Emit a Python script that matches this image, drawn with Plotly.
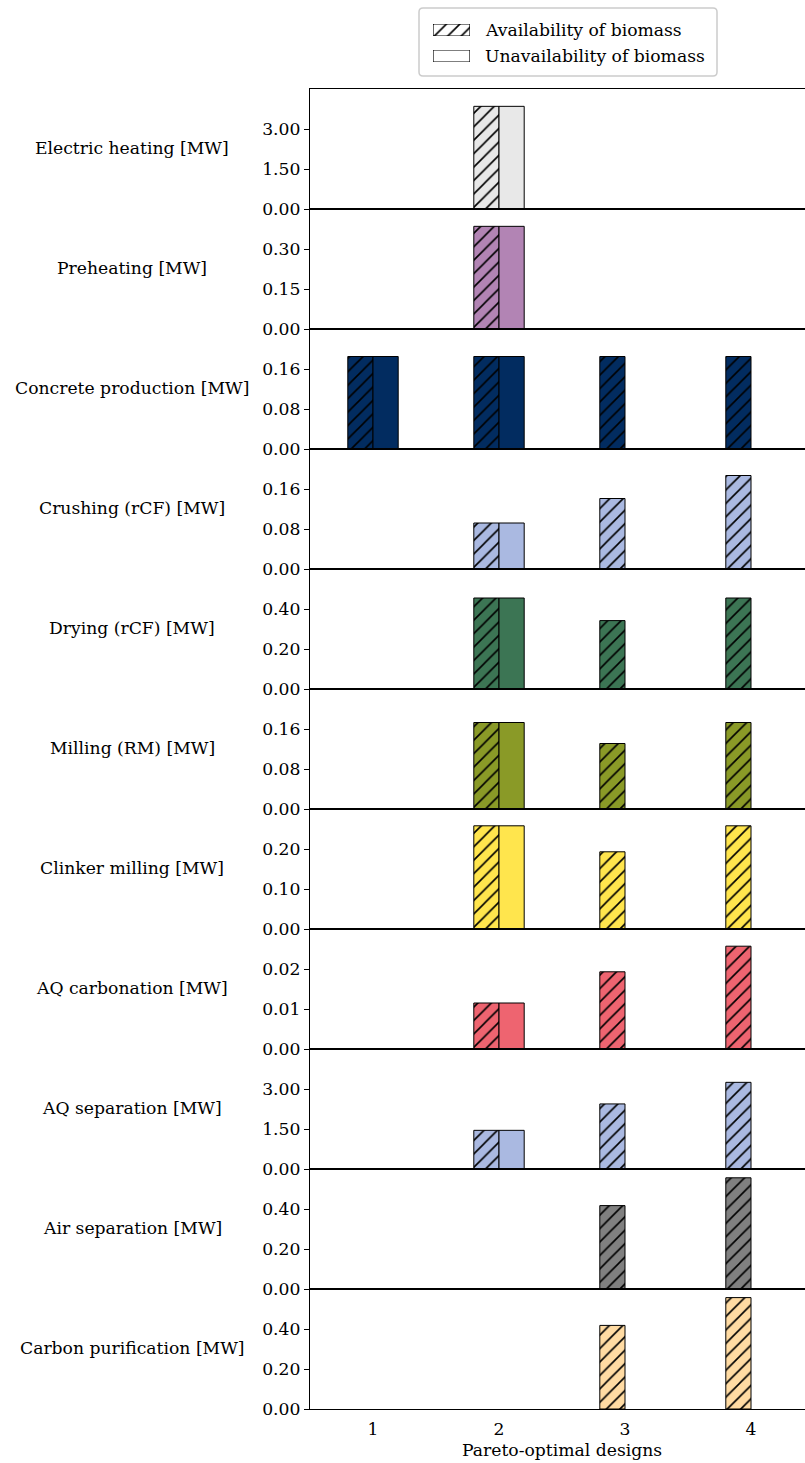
import plotly.graph_objects as go

# ---- data -------------------------------------------------------------
designs = [1, 2, 3, 4]

units = [
    "Electric heating [MW]",
    "Preheating [MW]",
    "Concrete production [MW]",
    "Crushing (rCF) [MW]",
    "Drying (rCF) [MW]",
    "Milling (RM) [MW]",
    "Clinker milling [MW]",
    "AQ carbonation [MW]",
    "AQ separation [MW]",
    "Air separation [MW]",
    "Carbon purification [MW]",
]

# power demand with biomass available (hatched bars)
with_biomass = [
    [0.0, 3.85, 0.0, 0.0],
    [None, 0.385, None, None],
    [0.185, 0.185, 0.185, 0.185],
    [None, 0.092, 0.141, 0.187],
    [None, 0.455, 0.342, 0.455],
    [None, 0.173, 0.131, 0.173],
    [None, 0.258, 0.193, 0.258],
    [0.0, 0.0115, 0.0193, 0.0257],
    [None, 1.45, 2.44, 3.25],
    [None, None, 0.417, 0.556],
    [None, None, 0.418, 0.557],
]

# power demand without biomass (plain bars); only designs 1 and 2 exist
without_biomass = [
    [0.0, 3.85, None, None],
    [None, 0.385, None, None],
    [0.185, 0.185, None, None],
    [None, 0.092, None, None],
    [None, 0.455, None, None],
    [None, 0.173, None, None],
    [None, 0.258, None, None],
    [0.0, 0.0115, None, None],
    [None, 1.45, None, None],
    [None, None, None, None],
    [None, None, None, None],
]

tick_steps = [1.5, 0.15, 0.08, 0.08, 0.2, 0.08, 0.1, 0.01, 1.5, 0.2, 0.2]

colors = [
    "#E8E8E8", "#B284B4", "#022C60", "#AAB9E1", "#3C7554", "#8A9A27",
    "#FFE54D", "#EE6470", "#AAB9E1", "#808080", "#FFDBA3",
]

legend_labels = ["Availability of biomass", "Unavailability of biomass"]

# ---- layout geometry (pixels) ------------------------------------------
W, H = 805, 1463
FONT = "DejaVu Serif"
FS = 17.2
left_px = 310
panel_top0 = 89
panel_h = 120
unit_px = 126.0  # pixels per design on the x axis
x_range = [0.5, 0.5 + (W - left_px) / unit_px]

HATCH = dict(shape="/", fgcolor="black", fgopacity=1, size=9.5,
             solidity=0.17, fillmode="overlay")


def py(y_px):
    return (H - y_px) / H


def px(x_px):
    return x_px / W


fig = go.Figure()
layout = dict(
    width=W, height=H, autosize=False,
    margin=dict(l=0, r=0, t=0, b=0, pad=0),
    paper_bgcolor="white",
    plot_bgcolor="rgba(0,0,0,0)",
    barmode="group", bargap=0.6, bargroupgap=0.0,
    showlegend=False,
    font=dict(family=FONT, size=FS, color="black"),
)
annotations = []
shapes = []

n = len(units)
for i in range(n):
    sfx = "" if i == 0 else str(i + 1)
    xa, ya = "x" + sfx, "y" + sfx
    top = panel_top0 + panel_h * i
    bottom = top + panel_h
    step = tick_steps[i]
    c = colors[i]

    fig.add_trace(go.Bar(
        x=designs, y=with_biomass[i], xaxis=xa, yaxis=ya,
        marker=dict(color=c, line=dict(color="black", width=1),
                    pattern=HATCH),
        name=legend_labels[0], showlegend=False, hoverinfo="skip",
    ))
    fig.add_trace(go.Bar(
        x=designs, y=without_biomass[i], xaxis=xa, yaxis=ya,
        marker=dict(color=c, line=dict(color="black", width=1)),
        name=legend_labels[1], showlegend=False, hoverinfo="skip",
    ))

    last = i == n - 1
    layout["xaxis" + sfx] = dict(
        domain=[px(left_px), 1.0], range=x_range, anchor=ya,
        automargin=False,
        showline=True, mirror=True, linecolor="black", linewidth=1.2,
        showgrid=False, zeroline=False, ticks="",
        tickvals=designs, ticktext=[str(d) for d in designs],
        showticklabels=last, tickfont=dict(family=FONT, size=FS),
        ticklabelstandoff=4,
    )
    layout["yaxis" + sfx] = dict(
        domain=[py(bottom), py(top)], range=[0, 3 * step], anchor=xa,
        automargin=False,
        showline=True, mirror=False, linecolor="black", linewidth=1.2,
        showgrid=False, zeroline=False,
        ticks="outside", ticklen=5, tickwidth=1.2, tickcolor="black",
        tickvals=[0, step, 2 * step],
        ticktext=[f"{v:.2f}" for v in (0, step, 2 * step)],
        tickfont=dict(family=FONT, size=FS),
    )
    annotations.append(dict(
        text=units[i], xref="paper", yref="paper",
        x=px(132), y=py(top + 59), xanchor="center", yanchor="middle",
        showarrow=False, font=dict(family=FONT, size=FS),
    ))

# x axis title
annotations.append(dict(
    text="Pareto-optimal designs", xref="x" + str(n), yref="paper",
    x=2.5, y=py(1450), xanchor="center", yanchor="middle",
    showarrow=False, font=dict(family=FONT, size=FS),
))

# ---- legend box ------------------------------------------------------
bx0, bx1, by0, by1, r = 419, 717, 8, 76, 4
path = (
    f"M{px(bx0 + r)},{py(by0)} L{px(bx1 - r)},{py(by0)} "
    f"Q{px(bx1)},{py(by0)} {px(bx1)},{py(by0 + r)} "
    f"L{px(bx1)},{py(by1 - r)} Q{px(bx1)},{py(by1)} {px(bx1 - r)},{py(by1)} "
    f"L{px(bx0 + r)},{py(by1)} Q{px(bx0)},{py(by1)} {px(bx0)},{py(by1 - r)} "
    f"L{px(bx0)},{py(by0 + r)} Q{px(bx0)},{py(by0)} {px(bx0 + r)},{py(by0)} Z"
)
shapes.append(dict(type="path", path=path, xref="paper", yref="paper",
                   line=dict(color="#CCCCCC", width=1.5), fillcolor="white",
                   layer="below"))

legend_rows = [(24, 36), (50, 62)]
for k, (t, b) in enumerate(legend_rows):
    sfx = str(n + 1 + k)
    patch_marker = dict(color="white", line=dict(color="black", width=1.2))
    if k == 0:
        patch_marker["pattern"] = HATCH
    fig.add_trace(go.Bar(
        x=[0], y=[1], width=[1], offset=-0.5, xaxis="x" + sfx, yaxis="y" + sfx,
        marker=patch_marker, cliponaxis=False, showlegend=False,
        hoverinfo="skip",
    ))
    layout["xaxis" + sfx] = dict(domain=[px(433), px(470)], range=[-0.5, 0.5],
                                 visible=False, anchor="y" + sfx,
                                 automargin=False)
    layout["yaxis" + sfx] = dict(domain=[py(b), py(t)], range=[0, 1],
                                 visible=False, anchor="x" + sfx,
                                 automargin=False)
    annotations.append(dict(
        text=legend_labels[k], xref="paper", yref="paper",
        x=px(483), y=py((t + b) / 2), xanchor="left", yanchor="middle",
        showarrow=False, font=dict(family=FONT, size=FS),
    ))

layout["annotations"] = annotations
layout["shapes"] = shapes
fig.update_layout(**layout)

fig.write_html("out.html")
